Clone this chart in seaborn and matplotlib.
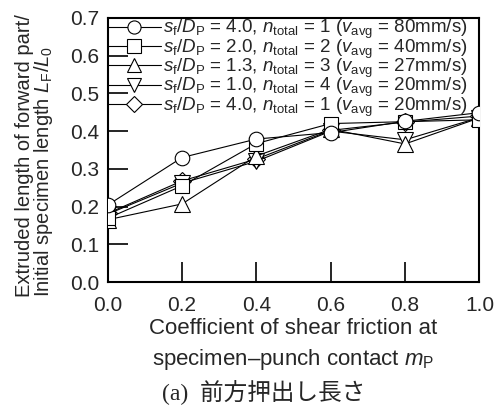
import matplotlib
matplotlib.use("Agg")
import matplotlib.pyplot as plt
import seaborn as sns
import pandas as pd

# Friction coefficient at the specimen-punch contact
m_p = [0.0, 0.2, 0.4, 0.6, 0.8, 1.0]

# Extruded length ratio L_F/L_0 for each condition
lf_sf40_n1_v80 = [0.204, 0.330, 0.379, 0.396, 0.426, 0.449]
lf_sf20_n2_v40 = [0.169, 0.255, 0.367, 0.420, 0.425, 0.430]
lf_sf13_n3_v27 = [0.165, 0.207, 0.334, 0.405, 0.366, 0.435]
lf_sf10_n4_v20 = [0.180, 0.262, 0.320, 0.400, 0.377, 0.436]
lf_sf40_n1_v20 = [0.182, 0.268, 0.326, 0.402, 0.424, 0.440]

labels = [
    r"$s_\mathrm{f}/D_\mathrm{P}$ = 4.0, $n_\mathrm{total}$ = 1 ($v_\mathrm{avg}$ = 80mm/s)",
    r"$s_\mathrm{f}/D_\mathrm{P}$ = 2.0, $n_\mathrm{total}$ = 2 ($v_\mathrm{avg}$ = 40mm/s)",
    r"$s_\mathrm{f}/D_\mathrm{P}$ = 1.3, $n_\mathrm{total}$ = 3 ($v_\mathrm{avg}$ = 27mm/s)",
    r"$s_\mathrm{f}/D_\mathrm{P}$ = 1.0, $n_\mathrm{total}$ = 4 ($v_\mathrm{avg}$ = 20mm/s)",
    r"$s_\mathrm{f}/D_\mathrm{P}$ = 4.0, $n_\mathrm{total}$ = 1 ($v_\mathrm{avg}$ = 20mm/s)",
]
series = [lf_sf40_n1_v80, lf_sf20_n2_v40, lf_sf13_n3_v27, lf_sf10_n4_v20, lf_sf40_n1_v20]
marker_styles = ["o", "s", "^", "v", "D"]
marker_sizes = [10.5, 10.5, 11, 11, 9.5]
x_ticks = [0.0, 0.2, 0.4, 0.6, 0.8, 1.0]
y_ticks = [0.0, 0.1, 0.2, 0.3, 0.4, 0.5, 0.6, 0.7]

sns.set_theme(style="ticks")
plt.rcParams["font.family"] = ["Liberation Sans", "DejaVu Sans"]
plt.rcParams["mathtext.fontset"] = "custom"
plt.rcParams["mathtext.rm"] = "Liberation Sans"
plt.rcParams["mathtext.it"] = "Liberation Sans:italic"
plt.rcParams["mathtext.bf"] = "Liberation Sans:bold"

fig = plt.figure(figsize=(5.01, 4.05), dpi=100)
ax = fig.add_axes([0.215, 0.3037, 0.742, 0.652])

df = pd.DataFrame({
    "m_p": m_p * len(series),
    "ratio": [v for s in series for v in s],
    "cond": [lab for lab, s in zip(labels, series) for _ in s],
})

# draw in reverse so the first condition sits on top
for i in reversed(range(len(series))):
    sub = df[df["cond"] == labels[i]]
    sns.lineplot(data=sub, x="m_p", y="ratio", ax=ax, color="black",
                 marker=marker_styles[i], markersize=marker_sizes[i],
                 markerfacecolor="white", markeredgecolor="black",
                 markeredgewidth=0.8, linewidth=0.8, label=labels[i],
                 zorder=3 + (len(series) - i))
hmap = {ln.get_label(): ln for ln in ax.get_lines()}
ordered = [hmap[lab] for lab in labels]

leg = ax.legend(ordered, labels, loc="upper left", frameon=False,
                fontsize=13.5, handlelength=2.85, handletextpad=0.08,
                labelspacing=-0.2, borderaxespad=0.0, borderpad=0.0,
                markerscale=0.9, bbox_to_anchor=(0.0, 1.0))

ax.set_xlim(0.0, 1.0)
ax.set_ylim(0.0, 0.7)
ax.set_xticks(x_ticks)
ax.set_yticks(y_ticks)
ax.set_xticklabels([f"{t:.1f}" for t in x_ticks])
ax.set_yticklabels([f"{t:.1f}" for t in y_ticks])
ax.tick_params(axis="both", direction="in", length=14.5, width=1.2,
               labelsize=15, color="black")
ax.tick_params(axis="y", pad=6)
ax.tick_params(axis="x", pad=10)
for sp in ax.spines.values():
    sp.set_linewidth(1.5)
    sp.set_color("black")
    sp.set_visible(True)

ax.set_xlabel("Coefficient of shear friction at\nspecimen\u2013punch contact $m_\\mathrm{P}$",
              fontsize=16, labelpad=2, linespacing=1.45)
ax.set_ylabel("Extruded length of forward part/\nInitial specimen length $L_\\mathrm{F}/L_0$",
              fontsize=14.5, linespacing=0.9, multialignment="left")
ax.yaxis.set_label_coords(-0.142, 0.48)

fig.text(0.527, 0.034, "(a)  前方押出し長さ", ha="center", va="center",
         fontsize=17, family=["Liberation Serif", "Noto Sans CJK JP"])

fig.savefig("out.png", dpi=100)
